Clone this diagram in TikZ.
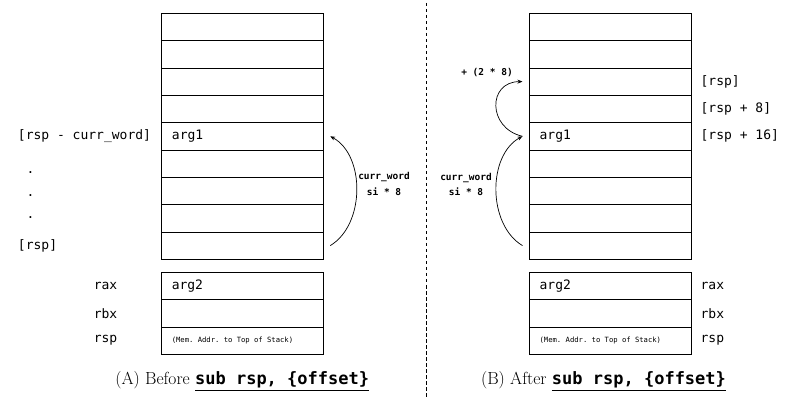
\documentclass[tikz,border=0pt]{standalone}
\usepackage{fontspec}
\setmonofont{DejaVu Sans Mono}
\usetikzlibrary{arrows.meta}

\begin{document}
\begin{tikzpicture}[x=1pt,y=-1pt,
		cell/.style={draw,line width=0.8pt,minimum width=161.5pt,minimum height=27.33pt,inner sep=0pt,outer sep=0pt},
		lbl/.style={inner sep=0pt,font=\fontsize{13}{15}\selectfont\ttfamily},
		tiny/.style={inner sep=0pt,font=\fontsize{7.2}{9}\selectfont\ttfamily},
		note/.style={inner sep=0pt,align=center,font=\fontsize{9.5}{15.5}\selectfont\ttfamily\bfseries},
		captext/.style={inner sep=0pt,font=\fontsize{17.5}{20}\selectfont},
		jump/.style={line width=0.7pt,-{Stealth[length=5pt,width=4pt]}}]
		\useasboundingbox (0,0) rectangle (810,419);
		
		% Stacks
			\foreach \i in {1,...,9} {
				\node[cell] (A\i) at (242.5,{13.3+27.33*(\i-0.5)}) {};
				\node[cell] (B\i) at (610.2,{13.3+27.33*(\i-0.5)}) {};
			}
		% Registers
			\foreach \i in {1,2,3} {
				\node[cell] (RA\i) at (242.3,{272.3+27.33*(\i-0.5)}) {};
				\node[cell] (RB\i) at (610.2,{272.3+27.33*(\i-0.5)}) {};
			}
			
			\node[lbl,anchor=west] (argA) at ([xshift=10pt]A5.west) {arg1};
			\node[lbl,anchor=west] (argB) at ([xshift=10pt]B5.west) {arg1};
			\node[lbl,anchor=west] (regA) at ([xshift=10pt]RA1.west) {arg2};
			\node[lbl,anchor=west] (regB) at ([xshift=10pt]RB1.west) {arg2};
			\node[tiny,anchor=west] (topA) at ([xshift=10pt]RA3.west) {(Mem. Addr. to Top of Stack)};
			\node[tiny,anchor=west] (topB) at ([xshift=10pt]RB3.west) {(Mem. Addr. to Top of Stack)};
			
		% Left labels
			\node[lbl,anchor=west] (curA) at ([xshift=-144pt]A5.west) {[rsp - curr\_word]};
			\node[lbl,anchor=west] (rspA) at ([xshift=-144pt]A9.west) {[rsp]};
			\node[lbl] (dot1) at (30.5,173) {.};
			\node[lbl] (dot2) at (30.5,196) {.};
			\node[lbl] (dot3) at (30.5,218) {.};
			\node[lbl,anchor=west] (raxA) at ([xshift=-68pt]RA1.west) {rax};
			\node[lbl,anchor=west] (rbxA) at ([xshift=-68pt]RA2.west) {rbx};
			\node[lbl,anchor=west] (rspRA) at ([xshift=-68pt]RA3.west) {rsp};
			
		% Right labels
			\node[lbl,anchor=west] (rspB) at ([xshift=9.5pt]B3.east) {[rsp]};
			\node[lbl,anchor=west] (rsp8B) at ([xshift=9.5pt]B4.east) {[rsp + 8]};
			\node[lbl,anchor=west] (rsp16B) at ([xshift=9.5pt]B5.east) {[rsp + 16]};
			\node[lbl,anchor=west] (raxB) at ([xshift=9.5pt]RB1.east) {rax};
			\node[lbl,anchor=west] (rbxB) at ([xshift=9.5pt]RB2.east) {rbx};
			\node[lbl,anchor=west] (rspRB) at ([xshift=9.5pt]RB3.east) {rsp};
			
		% Offsets
			\coordinate (a9) at ([xshift=7pt]A9.east);
			\coordinate (a5) at ([xshift=7pt]A5.east);
			\coordinate (b9) at ([xshift=-7pt]B9.west);
			\coordinate (b5) at ([xshift=-7pt]B5.west);
			\coordinate (b3) at ([xshift=-7pt]B3.west);
			\draw[jump] (a9) .. controls +(35,-21) and +(35,19) .. (a5);
			\draw[jump] (b9) .. controls +(-35,-21) and +(-35,19) .. (b5);
			\draw[jump] (b5) .. controls +(-35,-8) and +(-35,0) .. (b3);
			\node[note] (offA) at (384,184) {curr\_word\\si * 8};
			\node[note] (offB) at (466,184.5) {curr\_word\\si * 8};
			\node[note] (twoB) at (487,72.5) {+ (2 * 8)};
			
		% Divider
			\coordinate (divT) at (426,3);
			\coordinate (divB) at (426,397);
			\draw[line width=0.8pt,dash pattern=on 3.5pt off 2.5pt] (divT) -- (divB);
			
		% Captions
			\node[captext] (capA) at (242.2,381) {(A) Before \underline{{\fontsize{17}{20}\selectfont\ttfamily\bfseries sub rsp, \{offset\}}}};
			\node[captext] (capB) at (603.5,381) {(B) After \underline{{\fontsize{17}{20}\selectfont\ttfamily\bfseries sub rsp, \{offset\}}}};
			
		\end{tikzpicture}
\end{document}
